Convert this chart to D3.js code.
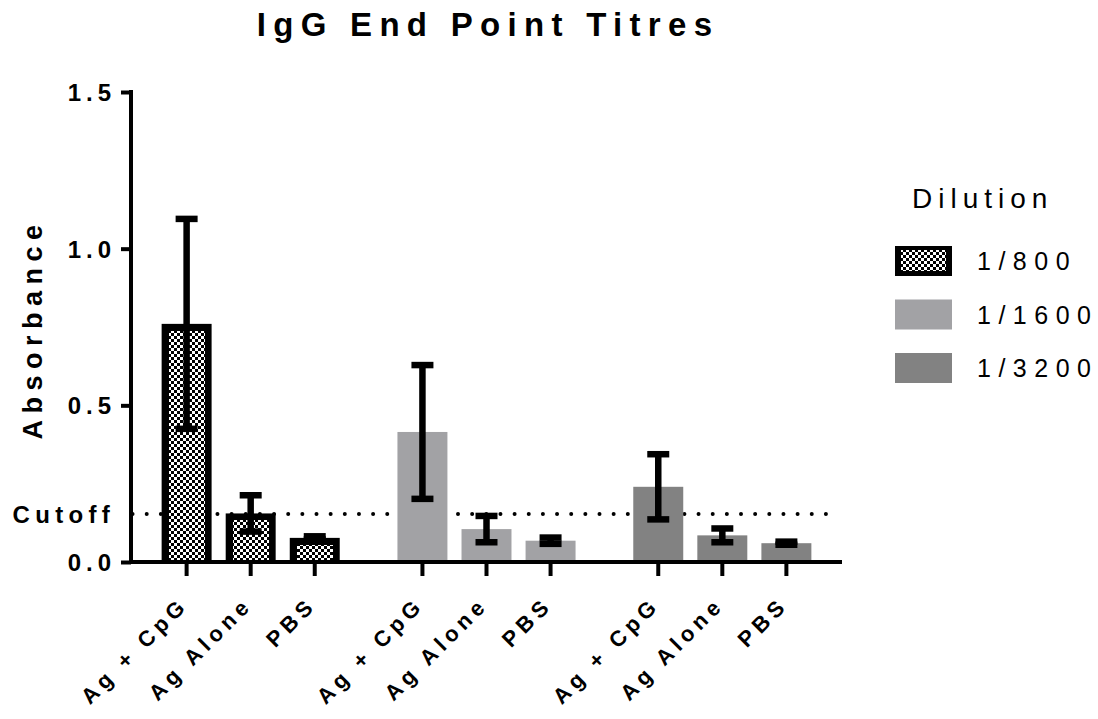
<!DOCTYPE html>
<html>
<head>
<meta charset="utf-8">
<script src="https://cdn.jsdelivr.net/npm/d3@7"></script>
<style>
  html, body { margin: 0; padding: 0; background: #fff; }
  svg { display: block; }
  text { font-family: "Liberation Sans", Arial, sans-serif; fill: #000; }
</style>
</head>
<body>
<svg id="chart" width="1098" height="719"></svg>
<script>
// ---- data ----
const categories = ["Ag + CpG", "Ag Alone", "PBS"];
const dilutions = ["1/800", "1/1600", "1/3200"];
const means800  = [0.76, 0.155, 0.077];
const err800    = [0.335, 0.058, 0.005];
const means1600 = [0.415, 0.105, 0.068];
const err1600   = [0.2135, 0.042, 0.010];
const means3200 = [0.24, 0.085, 0.060];
const err3200   = [0.104, 0.022, 0.005];
const yTicks = [0, 0.5, 1.0, 1.5];
const yTickLabels = ["0.0", "0.5", "1.0", "1.5"];
const cutoff = 0.153;
const cutoffLabel = "Cutoff";
const chartTitle = "IgG End Point Titres";
const yTitle = "Absorbance";
const legendTitle = "Dilution";

const seriesMeans = [means800, means1600, means3200];
const seriesErr = [err800, err1600, err3200];
const fills = ["url(#checker)", "#a2a2a5", "#828282"];

// ---- layout ----
const svg = d3.select("#chart");
const pLeft = 131, pRight = 842, pTop = 92, pBottom = 562;

const y = d3.scaleLinear().domain([0, 1.5]).range([pBottom, pTop]);
const xGroup = d3.scaleBand().domain(dilutions).range([pLeft, pRight])
  .paddingInner(0.185).paddingOuter(0.1);
const xCat = d3.scaleBand().domain(categories).range([0, xGroup.bandwidth()])
  .paddingInner(0.22).paddingOuter(0.11);

// pattern
const defs = svg.append("defs");
const pat = defs.append("pattern").attr("id", "checker")
  .attr("patternUnits", "userSpaceOnUse").attr("width", 6).attr("height", 6);
pat.append("rect").attr("width", 6).attr("height", 6).attr("fill", "#fff");
pat.append("rect").attr("width", 3).attr("height", 3).attr("fill", "#000");
pat.append("rect").attr("x", 3).attr("y", 3).attr("width", 3).attr("height", 3).attr("fill", "#000");

// title
svg.append("text").attr("x", 488).attr("y", 36).attr("text-anchor", "middle")
  .style("font-size", "33px").style("font-weight", "bold").style("letter-spacing", "7.3px")
  .text(chartTitle);

// cutoff dotted line (behind bars)
svg.append("line").attr("x1", pLeft).attr("x2", pRight - 2)
  .attr("y1", y(cutoff)).attr("y2", y(cutoff))
  .attr("stroke", "#000").attr("stroke-width", 4).attr("stroke-linecap", "round")
  .attr("stroke-dasharray", "0 14.15").attr("stroke-dashoffset", 12.6);

// bars
const rows = [];
dilutions.forEach((d, gi) => {
  categories.forEach((c, ci) => {
    rows.push({ dil: d, cat: c, gi, mean: seriesMeans[gi][ci], err: seriesErr[gi][ci] });
  });
});

const bw = xCat.bandwidth();
const barG = svg.append("g");
rows.forEach(r => {
  const x0 = xGroup(r.dil) + xCat(r.cat);
  const yTop = y(r.mean);
  if (r.gi === 0) {
    const b = 7;
    barG.append("rect").attr("x", x0).attr("y", yTop).attr("width", bw)
      .attr("height", pBottom - yTop).attr("fill", "#000");
    barG.append("rect").attr("x", x0 + b).attr("y", yTop + b).attr("width", bw - 2 * b)
      .attr("height", Math.max(0, pBottom - yTop - b)).attr("fill", fills[0])
      .attr("shape-rendering", "crispEdges");
  } else {
    barG.append("rect").attr("x", x0).attr("y", yTop).attr("width", bw)
      .attr("height", pBottom - yTop).attr("fill", fills[r.gi]);
  }
});

// error bars
const capW = 22, ew = 6.5;
const errG = svg.append("g").attr("stroke", "#000");
rows.forEach(r => {
  const cx = xGroup(r.dil) + xCat(r.cat) + bw / 2;
  const yHi = y(r.mean + r.err), yLo = y(r.mean - r.err);
  errG.append("line").attr("x1", cx).attr("x2", cx).attr("y1", yHi).attr("y2", yLo)
    .attr("stroke-width", ew);
  [yHi, yLo].forEach(yy => {
    errG.append("line").attr("x1", cx - capW / 2).attr("x2", cx + capW / 2)
      .attr("y1", yy).attr("y2", yy).attr("stroke-width", ew);
  });
});

// y axis
const yAxis = d3.axisLeft(y).tickValues(yTicks).tickSize(10).tickPadding(5)
  .tickFormat((d, i) => yTickLabels[i]);
const gy = svg.append("g").attr("transform", `translate(${pLeft},0)`).call(yAxis);
gy.attr("font-family", null).attr("font-size", null);
gy.select(".domain").attr("stroke-width", 4).attr("d", `M0,${pTop - 2}V${pBottom + 2}`);
gy.selectAll(".tick line").attr("stroke-width", 4);
gy.selectAll(".tick text").style("font-size", "24px").style("font-weight", "bold")
  .style("letter-spacing", "5px").attr("dy", "0.36em");

svg.append("text").attr("x", pLeft - 16).attr("y", y(cutoff)).attr("dy", "0.36em")
  .attr("text-anchor", "end").style("font-size", "24px").style("font-weight", "bold")
  .style("letter-spacing", "5.3px").text(cutoffLabel);

// x axis
const gx = svg.append("g").attr("transform", `translate(0,${pBottom})`);
gx.append("line").attr("x1", pLeft - 2).attr("x2", pRight).attr("y1", 0).attr("y2", 0)
  .attr("stroke", "#000").attr("stroke-width", 4);
rows.forEach(r => {
  const cx = xGroup(r.dil) + xCat(r.cat) + bw / 2;
  gx.append("line").attr("x1", cx).attr("x2", cx).attr("y1", 0).attr("y2", 14)
    .attr("stroke", "#000").attr("stroke-width", 4);
  gx.append("text").attr("transform", `translate(${cx + 3},44) rotate(-45)`)
    .attr("text-anchor", "end").style("font-size", "22px").style("font-weight", "bold")
    .style("letter-spacing", "5px").text(r.cat);
});

// y title
svg.append("text").attr("transform", `translate(42,${(pTop + pBottom) / 2 + 2}) rotate(-90)`)
  .attr("text-anchor", "middle").style("font-size", "27px").style("font-weight", "bold")
  .style("letter-spacing", "6.5px").text(yTitle);

// legend
const lg = svg.append("g");
lg.append("text").attr("x", 912).attr("y", 208).style("font-size", "28px")
  .style("letter-spacing", "6px").text(legendTitle);
const legY = d3.scalePoint().domain(dilutions).range([261, 368]);
dilutions.forEach((d, i) => {
  const yc = legY(d);
  if (i === 0) {
    lg.append("rect").attr("x", 895).attr("y", yc - 15).attr("width", 57).attr("height", 30).attr("fill", "#000");
    lg.append("rect").attr("x", 901).attr("y", yc - 11).attr("width", 45).attr("height", 21)
      .attr("fill", fills[0]).attr("shape-rendering", "crispEdges");
  } else {
    lg.append("rect").attr("x", 895).attr("y", yc - 15).attr("width", 57).attr("height", 30).attr("fill", fills[i]);
  }
  lg.append("text").attr("x", 977).attr("y", yc).attr("dy", "0.36em")
    .style("font-size", "25px").style("letter-spacing", "7.5px").text(d);
});
</script>
</body>
</html>
